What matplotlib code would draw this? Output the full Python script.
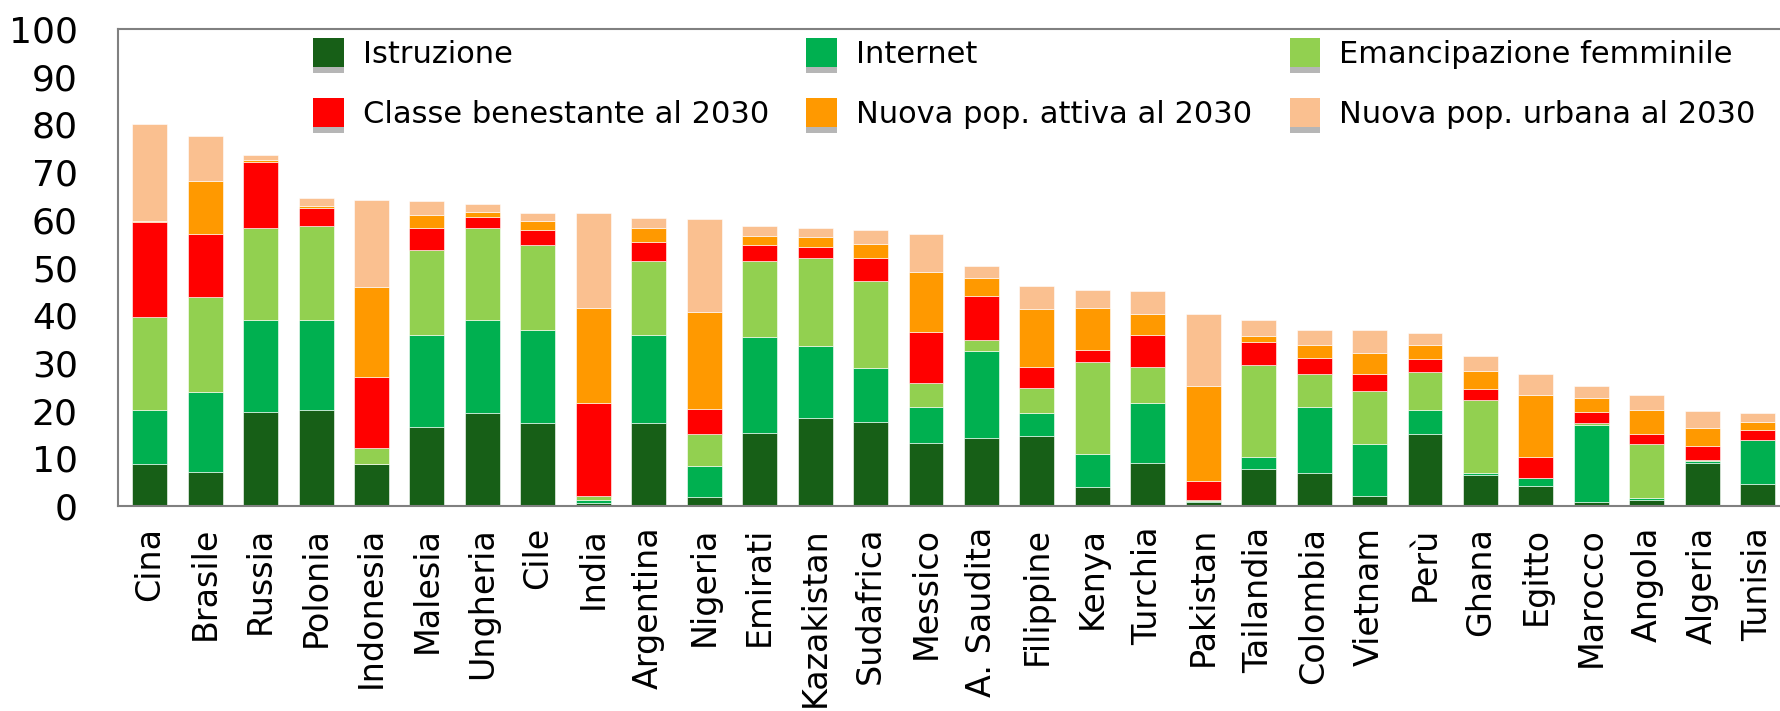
import numpy as np
import matplotlib
matplotlib.use("Agg")
import matplotlib.pyplot as plt
from matplotlib.patches import Patch
import matplotlib.patheffects as pe

countries = ['Cina', 'Brasile', 'Russia', 'Polonia', 'Indonesia', 'Malesia', 'Ungheria', 'Cile',
             'India', 'Argentina', 'Nigeria', 'Emirati', 'Kazakistan', 'Sudafrica', 'Messico',
             'A. Saudita', 'Filippine', 'Kenya', 'Turchia', 'Pakistan', 'Tailandia', 'Colombia',
             'Vietnam', 'Perù', 'Ghana', 'Egitto', 'Marocco', 'Angola', 'Algeria', 'Tunisia']

istruzione = [8.8, 7.2, 19.8, 20.1, 8.8, 16.6, 19.5, 17.3, 0.7, 17.3, 1.8, 15.4, 18.5, 17.6, 13.2,
              14.2, 14.7, 4.0, 9.1, 0.8, 7.8, 6.9, 2.2, 15.1, 6.6, 4.3, 0.8, 1.3, 9.1, 4.7]
internet = [11.3, 16.7, 19.2, 18.9, 0.0, 19.3, 19.5, 19.5, 0.5, 18.6, 6.6, 20.1, 15.1, 11.4, 7.6,
            18.2, 4.8, 6.9, 12.6, 0.2, 2.5, 13.9, 10.7, 5.1, 0.3, 1.6, 16.2, 0.3, 0.3, 9.1]
emancipazione = [19.5, 19.9, 19.2, 19.6, 3.4, 17.7, 19.2, 17.9, 0.8, 15.4, 6.6, 15.8, 18.3, 18.2, 5.0,
                 2.5, 5.3, 19.3, 7.5, 0.3, 19.3, 6.9, 11.3, 7.8, 15.4, 0.0, 0.3, 11.3, 0.3, 0.0]
classe = [19.9, 13.2, 13.9, 3.8, 14.9, 4.7, 2.3, 3.2, 19.7, 4.0, 5.4, 3.5, 2.5, 4.7, 10.7,
          9.2, 4.4, 2.5, 6.7, 4.0, 4.7, 3.4, 3.5, 2.8, 2.2, 4.4, 2.5, 2.2, 2.9, 2.2]
attiva = [0.3, 11.1, 0.4, 0.6, 18.9, 2.8, 1.2, 1.9, 19.8, 2.9, 20.2, 1.9, 2.0, 3.1, 12.6,
          3.7, 12.0, 8.8, 4.4, 19.9, 1.3, 2.6, 4.4, 2.9, 3.8, 13.0, 2.9, 5.1, 3.8, 1.6]
urbana = [20.2, 9.4, 1.1, 1.6, 18.2, 2.8, 1.6, 1.6, 19.9, 2.2, 19.6, 1.9, 1.9, 2.9, 7.9,
          2.5, 5.0, 3.8, 4.7, 15.1, 3.5, 3.1, 4.7, 2.5, 3.2, 4.4, 2.5, 3.1, 3.5, 1.9]

series_labels = ['Istruzione', 'Internet', 'Emancipazione femminile',
                 'Classe benestante al 2030', 'Nuova pop. attiva al 2030', 'Nuova pop. urbana al 2030']
series_values = [istruzione, internet, emancipazione, classe, attiva, urbana]
series_colors = ['#175F17', '#00B050', '#92D050', '#FF0000', '#FF9900', '#FAC090']
yticks = list(range(0, 101, 10))

plt.rcParams['font.family'] = ['DejaVu Sans']

fig = plt.figure(figsize=(17.81, 7.11), dpi=100)
ax = fig.add_axes([0.0663, 0.2883, 1 - 0.0663, 0.6709])

x = np.arange(len(countries))
bottom = np.zeros(len(countries))
for vals, col, lab in zip(series_values, series_colors, series_labels):
    v = np.array(vals)
    ax.bar(x, v, 0.63, bottom=bottom, color=col, label=lab, edgecolor='white', linewidth=0.4)
    bottom += v

ax.set_xlim(-0.57, 29.42)
ax.set_ylim(0, 100)
ax.set_yticks(yticks)
ax.set_yticklabels([str(t) for t in yticks])
ax.set_xticks(x)
ax.set_xticklabels(countries, rotation=90)
ax.tick_params(axis='y', length=0, pad=29, labelsize=26)
ax.tick_params(axis='x', length=0, pad=15, labelsize=24)

for s in ['left', 'top', 'bottom']:
    ax.spines[s].set_color('#808080')
    ax.spines[s].set_linewidth(1.5)
ax.spines['right'].set_visible(False)

shadow = [pe.withSimplePatchShadow(offset=(0, -4), shadow_rgbFace='#7a7a7a', alpha=0.55)]
handles = [Patch(facecolor=c, edgecolor='none', label=l, path_effects=shadow)
           for c, l in zip(series_colors, series_labels)]
order = [0, 3, 1, 4, 2, 5]
leg = ax.legend([handles[i] for i in order], [series_labels[i] for i in order],
                ncol=3, loc='upper left', bbox_to_anchor=(313 / 1781, 1 - 38 / 711),
                bbox_transform=fig.transFigure, frameon=False, fontsize=22,
                handlelength=1.0, handleheight=1.1, handletextpad=0.63,
                columnspacing=1.22, labelspacing=0.95, borderpad=0, borderaxespad=0)

fig.savefig('out.png', dpi=100)
